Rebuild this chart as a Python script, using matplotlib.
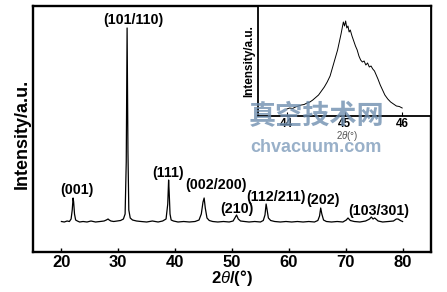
import matplotlib
matplotlib.use("Agg")
import matplotlib.pyplot as plt

plt.rcParams['font.family'] = ['Liberation Sans', 'DejaVu Sans']
plt.rcParams['mathtext.fontset'] = 'custom'
plt.rcParams['mathtext.it'] = 'Liberation Sans:italic'
plt.rcParams['mathtext.rm'] = 'Liberation Sans:bold'

# main XRD pattern (2theta in degrees, intensity in a.u., baseline ~0)
two_theta = [20.0, 20.5, 21.0, 21.4, 21.7, 21.9, 22.05, 22.15, 22.3, 22.5, 22.8, 23.2,
             23.8, 24.5, 25.2, 26.0, 26.8, 27.5, 27.9, 28.2, 28.4, 28.7, 29.2, 29.8,
             30.4, 30.9, 31.2, 31.4, 31.55, 31.7, 31.85, 32.1, 32.5, 33.2, 34.0, 35.0,
             36.0, 37.0, 37.8, 38.4, 38.7, 38.85, 38.95, 39.1, 39.3, 39.7, 40.5, 41.5,
             42.5, 43.5, 44.2, 44.6, 44.9, 45.1, 45.3, 45.6, 46.0, 46.6, 47.5, 48.5,
             49.5, 50.2, 50.6, 50.8, 51.1, 51.5, 52.2, 53.0, 54.0, 55.0, 55.5, 55.8,
             56.0, 56.15, 56.4, 56.8, 57.5, 58.5, 59.5, 60.5, 61.5, 62.5, 63.5, 64.5,
             65.1, 65.4, 65.6, 65.8, 66.1, 66.6, 67.5, 68.5, 69.5, 70.1, 70.4, 70.8,
             71.5, 72.5, 73.5, 74.2, 74.5, 74.8, 75.1, 75.3, 75.7, 76.5, 77.5, 78.4,
             78.9, 79.2, 79.6, 80.0]
intensity = [0.5, 0, 1, 0.5, 3, 12, 24, 20, 8, 2, 1, 0,
             0.5, 0, 1, 0, 0.5, 1, 2, 3, 2, 1, 0.5, 1,
             1.5, 3, 8, 60, 194, 70, 12, 4, 2, 1, 0.5, 0,
             1, 0, 1, 3, 18, 42, 30, 8, 2, 1, 0, 0.5,
             0, 0.5, 2, 8, 20, 24, 14, 4, 1.5, 0.5, 0, 0.5,
             0, 1, 5, 7, 3, 1, 0.5, 0, 0.5, 0, 1.5, 7,
             18, 13, 4, 1.5, 0.5, 0, 0.5, 0, 0.5, 0, 0.5, 0,
             1.5, 6, 14, 8, 2, 0.5, 0, 0.5, 0, 2, 4, 1.5,
             0.5, 0, 1, 3, 5, 3, 4, 3, 1, 0, 0.5, 1,
             3, 3, 1.5, 0.5]

# peak labels: text, 2theta, height
peak_text = ['(001)', '(101/110)', '(111)', '(002/200)', '(210)', '(112/211)', '(202)', '(103/301)']
peak_pos = [22.8, 32.7, 38.8, 47.2, 50.9, 57.7, 66.0, 75.8]
peak_y = [32, 202, 49, 37, 13, 25, 22, 11]

# inset: zoom on the (002/200) peak
inset_theta = [44.00, 44.05, 44.10, 44.15, 44.20, 44.25, 44.30, 44.35, 44.40, 44.45,
               44.50, 44.55, 44.60, 44.65, 44.70, 44.75, 44.80, 44.85, 44.88, 44.91,
               44.94, 44.96, 44.98, 45.00, 45.02, 45.04, 45.06, 45.08, 45.10, 45.13,
               45.16, 45.19, 45.22, 45.25, 45.28, 45.31, 45.34, 45.37, 45.40, 45.43,
               45.46, 45.49, 45.52, 45.55, 45.58, 45.62, 45.66, 45.70, 45.75, 45.80,
               45.85, 45.90, 45.95, 46.00]
inset_int = [7, 8, 7.5, 9, 10, 11, 11.5, 13, 14, 16,
             18.5, 21, 25, 29, 34, 40, 50, 60, 66, 74,
             82, 88, 94, 90, 95, 88, 90, 84, 86, 80,
             75, 70, 66, 60, 56, 54, 55, 51, 53, 49,
             50, 47, 45, 41, 37, 31, 26, 21, 17, 14,
             12, 10, 9.5, 8]

fig = plt.figure(figsize=(4.47, 2.92), dpi=100)
ax = fig.add_axes([33/447, 40/292, 398/447, 246/292])
ax.plot(two_theta, intensity, color='black', lw=0.9)
for t, x, y in zip(peak_text, peak_pos, peak_y):
    ax.text(x, y, t, ha='center', va='center', fontsize=10.3, fontweight='bold')
ax.set_xlim(15, 85)
ax.set_ylim(-30, 216)
ax.set_xticks([20, 30, 40, 50, 60, 70, 80])
ax.set_yticks([])
ax.tick_params(axis='x', direction='in', length=3, width=1, pad=2, labelsize=12)
for lab in ax.get_xticklabels():
    lab.set_fontweight('bold')
for s in ax.spines.values():
    s.set_linewidth(1.7)
ax.set_xlabel(r'2$\it{\theta}$/(°)', fontsize=12, fontweight='bold', labelpad=-1)
ax.set_ylabel('Intensity/a.u.', fontsize=13, fontweight='bold')
ax.yaxis.set_label_coords(-0.005, 0.48)

ins = fig.add_axes([258/447, 176/292, 173/447, 110/292])
ins.plot(inset_theta, inset_int, color='black', lw=0.7)
ins.set_xlim(43.5, 46.5)
ins.set_ylim(0, 110)
ins.set_xticks([44, 45, 46])
ins.set_yticks([])
ins.tick_params(axis='x', direction='in', length=3, width=0.8, pad=1.5, labelsize=8.5)
for lab in ins.get_xticklabels():
    lab.set_fontweight('bold')
for s in ins.spines.values():
    s.set_linewidth(1.3)
ins.set_ylabel('Intensity/a.u.', fontsize=8.5, fontweight='bold', labelpad=2)
fig.text(347/447, 1 - 136/292, r'2$\it{\theta}$(°)', fontsize=7, color='#555555',
         ha='center', va='center')

# watermark
fig.text(316/447, 1 - 116/292, '真空技术网', family=['Noto Sans CJK SC', 'DejaVu Sans'],
         fontsize=19.5, fontweight='bold', color='#6f8fb0', alpha=0.8, ha='center', va='center')
fig.text(316/447, 1 - 148/292, 'chvacuum.com', fontsize=13, fontweight='bold',
         color='#8ea8c3', alpha=0.9, ha='center', va='center')

fig.savefig('out.png', dpi=100)
